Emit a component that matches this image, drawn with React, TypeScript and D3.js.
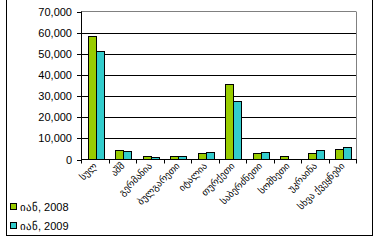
import React from "react";
import * as d3 from "d3";

const categories = ["სულ", "აშშ", "გერმანია", "ბულგარეთი", "იტალია", "თურქეთი", "საბერძნეთი", "სომხეთი", "უკრაინა", "სხვა ქვეყნები"];
const seriesNames = ["იან, 2008", "იან, 2009"];
const values2008 = [58300, 4700, 1550, 1500, 3000, 35500, 2850, 1500, 3300, 4900];
const values2009 = [51100, 4250, 950, 1500, 3450, 27600, 3400, 400, 4400, 5800];
const yTicks = [0, 10000, 20000, 30000, 40000, 50000, 60000, 70000];
const colors = ["#99CC00", "#33CCCC"];

export default function App() {
  const W = 378, H = 241;
  const left = 81, right = 356, top = 11.5, bottom = 159.5;
  const x = d3.scaleBand<string>().domain(categories).range([left, right]).paddingInner(0).paddingOuter(0);
  const y = d3.scaleLinear().domain([0, 70000]).range([bottom, top]);
  const bw = 8;
  const series = [values2008, values2009];
  const fmt = d3.format(",");
  return (
    <svg width={W} height={H} style={{ position: "absolute", left: 0, top: 0, background: "#fff" }}>
      <rect x={6.5} y={-2} width={366} height={237.5} fill="#fff" stroke="#000" strokeWidth={1} />
      {/* plot border */}
      <line x1={left} x2={right} y1={top} y2={top} stroke="#808080" />
      <line x1={right + 0.5} x2={right + 0.5} y1={top} y2={bottom} stroke="#808080" />
      {yTicks.slice(1, -1).map((t) => (
        <line key={t} x1={left} x2={right} y1={Math.round(y(t)) + 0.5} y2={Math.round(y(t)) + 0.5} stroke="#000" />
      ))}
      {categories.map((c, i) =>
        series.map((s, k) => {
          const cx = x(c)! + x.bandwidth() / 2 + 1;
          const bx = Math.round(cx - bw + k * bw) + 0.5;
          const yy = Math.round(y(s[i])) + 0.5;
          return (
            <rect key={c + k} x={bx} y={yy} width={bw} height={bottom - yy} fill={colors[k]} stroke="#000" strokeWidth={1} />
          );
        })
      )}
      {/* axes */}
      <line x1={left + 0.5} x2={left + 0.5} y1={top} y2={bottom} stroke="#000" />
      <line x1={left} x2={right + 1} y1={bottom} y2={bottom} stroke="#000" />
      {yTicks.map((t) => (
        <g key={t}>
          <line x1={left - 4} x2={left} y1={Math.round(y(t)) + 0.5} y2={Math.round(y(t)) + 0.5} stroke="#000" />
          <text x={72} y={y(t) + 4} textAnchor="end" fontFamily="Liberation Sans, Arial" fontSize={11} fill="#000">
            {fmt(t)}
          </text>
        </g>
      ))}
      {categories.concat([""]).map((c, i) => {
        const tx = Math.round(left + i * x.bandwidth()) + 0.5;
        return <line key={"t" + i} x1={tx} x2={tx} y1={bottom} y2={bottom + 4} stroke="#000" />;
      })}
      {categories.map((c) => {
        const cx = x(c)! + x.bandwidth() / 2 + 3;
        const cy = bottom + 7;
        return (
          <text key={"l" + c} x={cx} y={cy} textAnchor="end" fontFamily="DejaVu Sans" fontSize={9.5}
            transform={`rotate(-45 ${cx} ${cy})`} fill="#000">
            {c}
          </text>
        );
      })}
      {seriesNames.map((n, k) => (
        <g key={n}>
          <rect x={10.5} y={203.5 + k * 19} width={6} height={6} fill={colors[k]} stroke="#000" />
          <text x={20} y={210.5 + k * 19} fontFamily="Liberation Sans, Arial" fontSize={11} fill="#000">
            {n}
          </text>
        </g>
      ))}
    </svg>
  );
}
